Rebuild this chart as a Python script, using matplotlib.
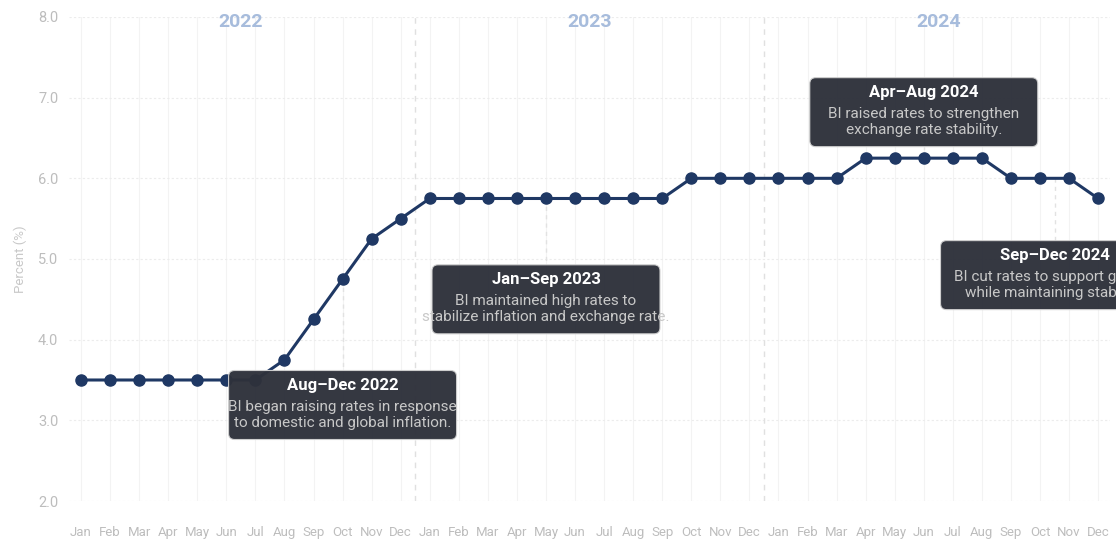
import matplotlib.pyplot as plt
import matplotlib.transforms as mtransforms
from matplotlib.patches import FancyBboxPatch

plt.rcParams['font.family'] = ['Roboto', 'DejaVu Sans']

# BI 7-day reverse repo rate, monthly, Jan 2022 - Dec 2024
months = ['Jan', 'Feb', 'Mar', 'Apr', 'May', 'Jun',
          'Jul', 'Aug', 'Sep', 'Oct', 'Nov', 'Dec']
years = ['2022', '2023', '2024']
rate_2022 = [3.5, 3.5, 3.5, 3.5, 3.5, 3.5, 3.5, 3.75, 4.25, 4.75, 5.25, 5.5]
rate_2023 = [5.75, 5.75, 5.75, 5.75, 5.75, 5.75, 5.75, 5.75, 5.75, 6.0, 6.0, 6.0]
rate_2024 = [6.0, 6.0, 6.0, 6.25, 6.25, 6.25, 6.25, 6.25, 6.0, 6.0, 6.0, 5.75]

# annotation boxes: (month index of centre, y centre, anchor y on line, title, body)
notes_x = [9, 16, 29, 33.5]
notes_y = [3.19, 4.50, 6.82, 4.80]
notes_anchor = [4.75, 5.75, 6.25, 6.0]
notes_title = ['Aug\u2013Dec 2022', 'Jan\u2013Sep 2023', 'Apr\u2013Aug 2024', 'Sep\u2013Dec 2024']
notes_body = ['BI began raising rates in response\nto domestic and global inflation.',
              'BI maintained high rates to\nstabilize inflation and exchange rate.',
              'BI raised rates to strengthen\nexchange rate stability.',
              'BI cut rates to support growth\nwhile maintaining stability.']

rates = rate_2022 + rate_2023 + rate_2024
labels = months * len(years)
x = list(range(len(rates)))

line_col = '#1f3864'
grey = '#bdbdbd'

fig = plt.figure(figsize=(11.16, 5.39), dpi=100)
ax = fig.add_axes([0.0622, 0.0705, 0.9322, 0.898])
ax.set_xlim(-0.4, 35.4)
ax.set_ylim(2.0, 8.0)

for s in ax.spines.values():
    s.set_visible(False)

# faint grid
for i in x:
    ax.axvline(i, color='#f3f3f3', lw=0.8, zorder=0)
for v in range(2, 9):
    ax.axhline(v, color='#ececec', lw=0.8, ls=(0, (2, 2)), zorder=0)

# year separators and year labels
for k in range(1, len(years)):
    ax.axvline(12 * k - 0.5, color='#e0e0e0', lw=1, ls=(0, (4, 4)), zorder=1)
for k, yr in enumerate(years):
    ax.text(12 * k + 5.5, 7.94, yr, ha='center', va='center', fontsize=14,
            fontweight='bold', color='#a7bcdc')

ax.plot(x, rates, color=line_col, lw=2.2, marker='o', ms=8, zorder=3)

ax.set_xticks(x)
ax.set_xticklabels(labels, fontsize=9.5, color=grey)
ax.set_yticks(range(2, 9))
ax.set_yticklabels(['%.1f' % v for v in range(2, 9)], fontsize=10.5, color=grey)
ax.tick_params(length=0, pad=8)
ax.tick_params(axis='x', pad=18)
ax.set_ylabel('Percent (%)', fontsize=9.5, color='#c8c8c8', labelpad=8)

# annotation boxes, fixed pixel size around a data-space centre
bw, bh = 228, 69
for xc, yc, ya, title, body in zip(notes_x, notes_y, notes_anchor, notes_title, notes_body):
    top = yc + (bh / 2) / 80.7 if yc < ya else yc - (bh / 2) / 80.7
    ax.plot([xc, xc], [ya, top], color='#e2e2e2', lw=1, ls=(0, (3, 3)), zorder=2)
    tr = mtransforms.Affine2D() + mtransforms.ScaledTranslation(xc, yc, ax.transData)
    box = FancyBboxPatch((-bw / 2, -bh / 2), bw, bh, boxstyle='round,pad=0,rounding_size=6',
                         transform=tr, facecolor='#2e313b', edgecolor='#d0d0d0', lw=0.8,
                         alpha=0.97, zorder=4, clip_on=False)
    ax.add_patch(box)
    ax.annotate(title, xy=(xc, yc), xytext=(0, 20), textcoords='offset pixels',
                ha='center', va='center', fontsize=12, fontweight='bold',
                color='white', zorder=5, annotation_clip=False)
    ax.annotate(body, xy=(xc, yc), xytext=(0, -10), textcoords='offset pixels',
                ha='center', va='center', fontsize=11, color='#c8c8c8',
                linespacing=1.2, zorder=5, annotation_clip=False)

fig.savefig('out.png', dpi=100)
